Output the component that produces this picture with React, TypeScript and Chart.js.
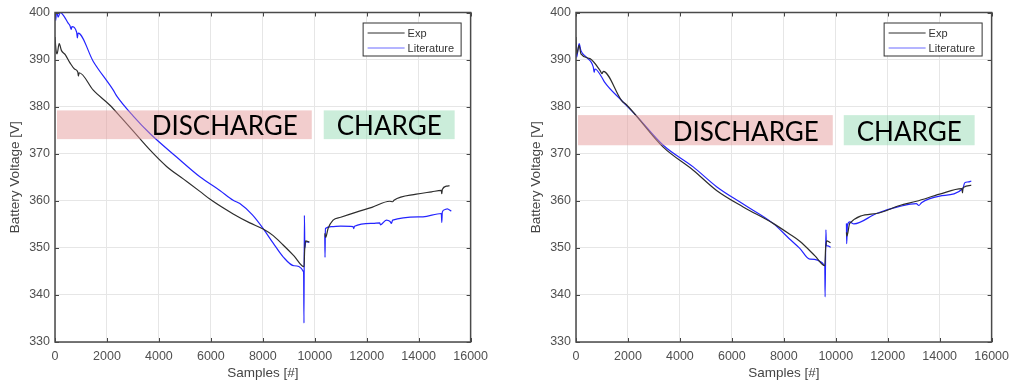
import { useEffect, useRef } from "react";
import { Chart, registerables } from "chart.js";

Chart.register(...registerables);

type Pt = [number, number | null];

const xTicks = [0, 2000, 4000, 6000, 8000, 10000, 12000, 14000, 16000];
const yTicks = [330, 340, 350, 360, 370, 380, 390, 400];
const seriesNames = ["Exp", "Literature"];
const bandLabels = ["DISCHARGE", "CHARGE"];

const leftExp: Pt[] = [
  [0, 394.8], [40, 392.0], [80, 391.2], [160, 393.4], [250, 391.9], [400, 391.0],
  [577, 389.3], [750, 388.0], [880, 387.3], [900, 386.5], [930, 387.2], [1474, 383.5],
  [2115, 380.3], [2560, 377.6], [3013, 374.8], [3654, 370.8], [4295, 367.3], [4950, 364.6],
  [5577, 362.0], [6000, 360.2], [6860, 357.2], [7500, 355.3], [8013, 354.0], [8400, 352.6],
  [8782, 350.6], [9200, 348.3], [9588, 346.0], [9610, 349.5], [9650, 351.5], [9780, 351.2],
  [10000, null],
  [10385, 353.1], [10420, 352.2], [10512, 354.1], [10705, 355.9], [11000, 356.5], [11603, 357.6],
  [12200, 358.6], [12884, 359.9], [13000, 359.8], [13050, 360.1], [13910, 361.4], [14500, 361.9],
  [14872, 362.2], [14890, 361.5], [14910, 362.4], [15064, 363.1], [15192, 363.2],
];

const leftLit: Pt[] = [
  [0, 401], [30, 398.3], [60, 400.5], [120, 399.0], [200, 400.0], [350, 399.2], [500, 397.8],
  [577, 397.2], [620, 396.4], [650, 397.0], [834, 395.8], [860, 394.6], [890, 395.6],
  [1474, 389.6], [2243, 383.5], [2372, 382.3], [3013, 378.0], [3654, 374.3], [4680, 369.3],
  [5577, 365.1], [6346, 362.2], [6860, 360.1], [7115, 359.4], [7600, 357.0], [8013, 354.1],
  [8400, 351.0], [8782, 348.1], [9200, 346.2], [9570, 344.9], [9585, 334.0], [9600, 356.9],
  [9620, 350.0], [9650, 351.3], [9800, 351.2],
  [10000, null],
  [10385, 352.7], [10395, 348.0], [10410, 354.1], [10640, 354.5], [11000, 354.6], [11474, 354.5],
  [11500, 354.1], [11530, 354.6], [12243, 355.2], [12500, 355.3], [12530, 354.9], [12756, 355.9],
  [12900, 355.6], [12950, 355.2], [13000, 355.9], [14166, 356.6], [14872, 357.3], [14890, 355.4],
  [14910, 357.6], [15000, 358.1], [15100, 358.3], [15256, 357.8],
];

const rightExp: Pt[] = [
  [0, 394.8], [30, 391.2], [120, 393.0], [190, 391.2], [538, 390.2], [923, 387.7], [1000, 387.0],
  [1050, 387.5], [1756, 381.3], [1960, 380.3], [3358, 371.4], [4512, 366.5], [5411, 362.2],
  [6435, 358.7], [7588, 355.2], [8200, 353.0], [8615, 351.4], [9200, 348.3], [9577, 346.2],
  [9610, 350.0], [9650, 351.5], [9800, 351.1],
  [10000, null],
  [10411, 353.3], [10430, 352.5], [10538, 355.2], [11565, 357.3], [12461, 359.0], [13103, 359.9],
  [14000, 361.4], [14850, 362.6], [14880, 361.7], [14900, 362.8], [15218, 363.3],
];

const rightLit: Pt[] = [
  [0, 393.5], [25, 390.5], [120, 393.4], [190, 391.9], [400, 390.5], [666, 388.4], [700, 387.3],
  [730, 388.0], [987, 386.3], [1100, 385.2], [1756, 381.3], [2300, 378.2], [3358, 371.8],
  [4512, 367.2], [5411, 363.0], [6435, 359.3], [7588, 355.2], [8200, 352.0], [8615, 349.9],
  [9000, 347.6], [9577, 346.2], [9590, 339.6], [9620, 353.8], [9640, 350.5], [9700, 350.4],
  [9800, 350.1],
  [10000, null],
  [10411, 355.2], [10420, 350.9], [10450, 354.8], [10538, 355.5], [10700, 355.1], [11565, 357.3],
  [12461, 358.8], [13103, 359.4], [13200, 359.0], [13300, 359.6], [14000, 361.0], [14897, 362.6],
  [14961, 363.8], [15100, 364.0], [15218, 364.2],
];

// band extents in data units: [x0, x1, yLow, yHigh]
const leftBands: [number, number, number, number][] = [
  [77, 9885, 373.1, 379.2],
  [10346, 15385, 373.1, 379.2],
];
const rightBands: [number, number, number, number][] = [
  [77, 9885, 371.8, 378.2],
  [10308, 15346, 371.8, 378.2],
];

const EXP_COLOR = "#2d2d2d";
const LIT_COLOR = "#2424ff";
const BAND_COLORS = ["rgba(228,150,150,0.48)", "rgba(140,215,172,0.45)"];
const TICK_FONT = { family: "'Liberation Sans', Arial, sans-serif", size: 12.5 };
const TITLE_FONT = { family: "'Liberation Sans', Arial, sans-serif", size: 13.5 };

function makePlugins(bands: [number, number, number, number][]) {
  const bandPlugin = {
    id: "bands",
    afterDatasetsDraw(chart: any) {
      const { ctx, scales } = chart;
      const xs = scales.x;
      const ys = scales.y;
      ctx.save();
      bands.forEach((b, i) => {
        const x0 = xs.getPixelForValue(b[0]);
        const x1 = xs.getPixelForValue(b[1]);
        const yTop = ys.getPixelForValue(b[3]);
        const yBot = ys.getPixelForValue(b[2]);
        ctx.fillStyle = BAND_COLORS[i];
        ctx.fillRect(x0, yTop, x1 - x0, yBot - yTop);
        ctx.fillStyle = "#000";
        ctx.font = "26px Lato, 'Open Sans', sans-serif";
        ctx.textBaseline = "alphabetic";
        if (i === 0) {
          ctx.textAlign = "right";
          ctx.fillText(bandLabels[i], x1 - 14, yBot - 4.5);
        } else {
          ctx.textAlign = "center";
          ctx.fillText(bandLabels[i], (x0 + x1) / 2, yBot - 4.5);
        }
      });
      ctx.restore();
    },
  };

  const framePlugin = {
    id: "frame",
    afterDraw(chart: any) {
      const { ctx, chartArea: a, scales } = chart;
      ctx.save();
      ctx.strokeStyle = "#444";
      ctx.lineWidth = 1;
      ctx.beginPath();
      xTicks.forEach((v) => {
        const x = Math.round(scales.x.getPixelForValue(v)) + 0.5;
        ctx.moveTo(x, a.bottom);
        ctx.lineTo(x, a.bottom - 4);
        ctx.moveTo(x, a.top);
        ctx.lineTo(x, a.top + 4);
      });
      yTicks.forEach((v) => {
        const y = Math.round(scales.y.getPixelForValue(v)) + 0.5;
        ctx.moveTo(a.left, y);
        ctx.lineTo(a.left + 4, y);
        ctx.moveTo(a.right, y);
        ctx.lineTo(a.right - 4, y);
      });
      ctx.stroke();
      ctx.strokeStyle = "#4a4a4a";
      ctx.lineWidth = 1.5;
      ctx.strokeRect(a.left, a.top, a.right - a.left, a.bottom - a.top);

      const w = 98;
      const h = 33;
      const lx = a.right - 10 - w;
      const ly = a.top + 10;
      ctx.fillStyle = "#fff";
      ctx.fillRect(lx, ly, w, h);
      ctx.strokeStyle = "#333";
      ctx.lineWidth = 1;
      ctx.strokeRect(lx + 0.5, ly + 0.5, w, h);
      const rows: [string, string][] = [
        [seriesNames[0], EXP_COLOR],
        [seriesNames[1], "#6b6bff"],
      ];
      ctx.font = "11px 'Liberation Sans', Arial, sans-serif";
      ctx.textAlign = "left";
      ctx.textBaseline = "middle";
      rows.forEach(([name, col], i) => {
        const yy = ly + 10 + i * 15;
        ctx.strokeStyle = col;
        ctx.lineWidth = 1;
        ctx.beginPath();
        ctx.moveTo(lx + 5, yy + 0.5);
        ctx.lineTo(lx + 42, yy + 0.5);
        ctx.stroke();
        ctx.fillStyle = "#333";
        ctx.fillText(name, lx + 45, yy + 1);
      });
      ctx.restore();
    },
  };
  return [bandPlugin, framePlugin];
}

function toXY(arr: Pt[]) {
  return arr.map(([x, y]) => ({ x, y }));
}

function Panel(props: { exp: Pt[]; lit: Pt[]; bands: [number, number, number, number][]; left: number }) {
  const ref = useRef<HTMLCanvasElement | null>(null);
  useEffect(() => {
    if (!ref.current) return;
    const lineStyle = {
      borderWidth: 1.2,
      pointRadius: 0,
      cubicInterpolationMode: "monotone",
      spanGaps: false,
    };
    const chart = new Chart(ref.current, {
      type: "line",
      data: {
        datasets: [
          { label: seriesNames[0], data: toXY(props.exp) as any, borderColor: EXP_COLOR, ...lineStyle },
          { label: seriesNames[1], data: toXY(props.lit) as any, borderColor: LIT_COLOR, ...lineStyle },
        ],
      } as any,
      options: {
        responsive: false,
        animation: false,
        devicePixelRatio: 1,
        layout: { padding: { top: 12, right: 24, left: 0, bottom: 0 } },
        plugins: { legend: { display: false }, tooltip: { enabled: false } },
        scales: {
          x: {
            type: "linear",
            min: 0,
            max: 16000,
            afterBuildTicks: (s: any) => {
              s.ticks = xTicks.map((v) => ({ value: v }));
            },
            afterFit: (s: any) => {
              s.height = 43;
            },
            grid: { color: "#e6e6e6", drawTicks: false },
            border: { display: false },
            ticks: {
              padding: 7,
              color: "#505050",
              font: TICK_FONT,
              maxRotation: 0,
              autoSkip: false,
              callback: (v: any) => String(v),
            },
            title: {
              display: true,
              text: "Samples [#]",
              color: "#454545",
              font: TITLE_FONT,
              padding: { top: 4, bottom: 4 },
            },
          },
          y: {
            type: "linear",
            min: 330,
            max: 400,
            afterBuildTicks: (s: any) => {
              s.ticks = yTicks.map((v) => ({ value: v }));
            },
            afterFit: (s: any) => {
              s.width = 55;
            },
            grid: { color: "#e6e6e6", drawTicks: false },
            border: { display: false },
            ticks: {
              padding: 5,
              color: "#505050",
              font: TICK_FONT,
              autoSkip: false,
              callback: (v: any) => String(v),
            },
            title: {
              display: true,
              text: "Battery Voltage [V]",
              color: "#454545",
              font: TITLE_FONT,
              padding: { top: 7, bottom: 4 },
            },
          },
        },
      } as any,
      plugins: makePlugins(props.bands) as any,
    });
    return () => chart.destroy();
  }, []);
  return (
    <canvas
      ref={ref}
      width={495}
      height={385}
      style={{ position: "absolute", left: props.left, top: 0, width: 495, height: 385 }}
    />
  );
}

export default function App() {
  return (
    <div
      style={{
        position: "fixed",
        left: 0,
        top: 0,
        width: 1016,
        height: 385,
        background: "#fff",
        overflow: "hidden",
      }}
    >
      <Panel exp={leftExp} lit={leftLit} bands={leftBands} left={0} />
      <Panel exp={rightExp} lit={rightLit} bands={rightBands} left={521} />
    </div>
  );
}
